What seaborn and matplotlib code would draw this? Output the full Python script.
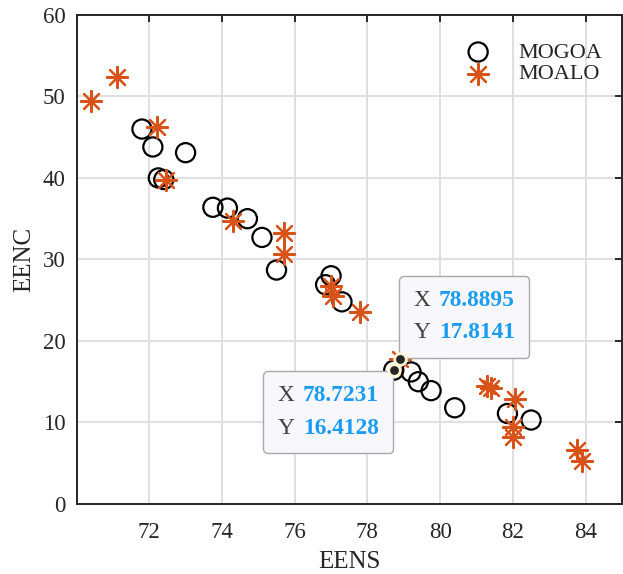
import numpy as np
import pandas as pd
import seaborn as sns
import matplotlib.pyplot as plt
from matplotlib.offsetbox import TextArea, HPacker, VPacker, AnnotationBbox

# MOGOA (open circles)
mogoa_eens = [71.8, 72.1, 73.0, 72.25, 72.4, 73.75, 74.15, 74.7, 75.1, 75.5,
              77.0, 76.85, 77.3, 78.7231, 79.2, 79.4, 79.75, 80.4, 81.85, 82.5]
mogoa_eenc = [46.0, 43.8, 43.1, 40.0, 39.8, 36.4, 36.3, 35.0, 32.7, 28.7,
              28.0, 26.9, 24.8, 16.4128, 16.2, 15.0, 13.9, 11.8, 11.1, 10.3]

# MOALO (asterisks)
moalo_eens = [70.4, 71.1, 72.2, 72.45, 74.3, 75.7, 75.7, 77.0, 77.05, 77.8,
              78.8895, 81.3, 81.4, 82.05, 82.0, 82.0, 83.75, 83.9]
moalo_eenc = [49.4, 52.4, 46.3, 39.8, 34.7, 33.3, 30.7, 26.8, 25.5, 23.6,
              17.8141, 14.5, 14.2, 12.9, 9.5, 8.2, 6.6, 5.3]

# data tips
tip_x = [78.8895, 78.7231]
tip_y = [17.8141, 16.4128]

df = pd.concat([
    pd.DataFrame({"EENS": mogoa_eens, "EENC": mogoa_eenc, "alg": "MOGOA"}),
    pd.DataFrame({"EENS": moalo_eens, "EENC": moalo_eenc, "alg": "MOALO"}),
])

sns.set_style("white")
plt.rcParams["font.family"] = ["Liberation Serif", "DejaVu Serif"]

fig = plt.figure(figsize=(6.23, 5.74), dpi=100)
ax = fig.add_axes([0.1228, 0.122, 0.8756, 0.852])

orange = "#D95319"
sns.scatterplot(data=df[df.alg == "MOGOA"], x="EENS", y="EENC", marker="o",
                s=190, facecolors="none", edgecolor="black", linewidth=1.6,
                ax=ax, label="MOGOA", zorder=3)
sns.scatterplot(data=df[df.alg == "MOALO"], x="EENS", y="EENC", marker=(8, 2, 0),
                s=230, color=orange, edgecolor=orange, linewidth=1.6,
                ax=ax, label="MOALO", zorder=3)

# data tip dots
ax.scatter(tip_x, tip_y, s=70, color="#262626", edgecolor="#fdf6d3",
           linewidth=2.0, zorder=8)

ax.set_xlim(70, 85)
ax.set_ylim(0, 60)
ax.set_yticks([0, 10, 20, 30, 40, 50, 60])
ax.set_xticks([70, 72, 74, 76, 78, 80, 82, 84])
ax.set_xticklabels(["", "72", "74", "76", "78", "80", "82", "84"])
ax.grid(True, color="#e0e0e0", linewidth=1.4, zorder=0)
ax.set_axisbelow(True)
ax.tick_params(direction="in", length=5, width=1.4, color="#262626",
               labelsize=16.5, labelcolor="#262626", top=True, right=True)
ax.tick_params(axis="x", pad=13)
ax.tick_params(axis="y", pad=8)
for sp in ax.spines.values():
    sp.set_visible(True)
    sp.set_color("#262626")
    sp.set_linewidth(1.4)
ax.set_xlabel("EENS", fontsize=18, color="#262626", labelpad=6)
ax.set_ylabel("EENC", fontsize=18, color="#262626", labelpad=5)

leg = ax.legend(loc="upper right", frameon=False, fontsize=16,
                bbox_to_anchor=(1.0, 0.985), handletextpad=0.8,
                labelspacing=0.05)

# data tip boxes
def datatip(x, y, offset):
    rows = []
    for lab, val in (("X", x), ("Y", y)):
        rows.append(HPacker(children=[
            TextArea(lab, textprops=dict(color="#404040", fontsize=16.8)),
            TextArea(f"{val:.4f}", textprops=dict(color="#1a9cf2", fontsize=16.8,
                                                  fontweight="bold"))],
            align="baseline", pad=0, sep=6))
    box = VPacker(children=rows, align="left", pad=0, sep=8)
    ab = AnnotationBbox(box, (x, y), xybox=offset, boxcoords="offset points",
                        box_alignment=(0.5, 0.5), pad=0, frameon=True,
                        bboxprops=dict(boxstyle="round,pad=1.05,rounding_size=0.35",
                                       facecolor="#f8f8fc", edgecolor="#a8a8a8",
                                       linewidth=1.0), zorder=6)
    ax.add_artist(ab)

datatip(tip_x[0], tip_y[0], (46.4, 30.2))
datatip(tip_x[1], tip_y[1], (-47.2, -30.1))

fig.savefig("out.png", dpi=100)
